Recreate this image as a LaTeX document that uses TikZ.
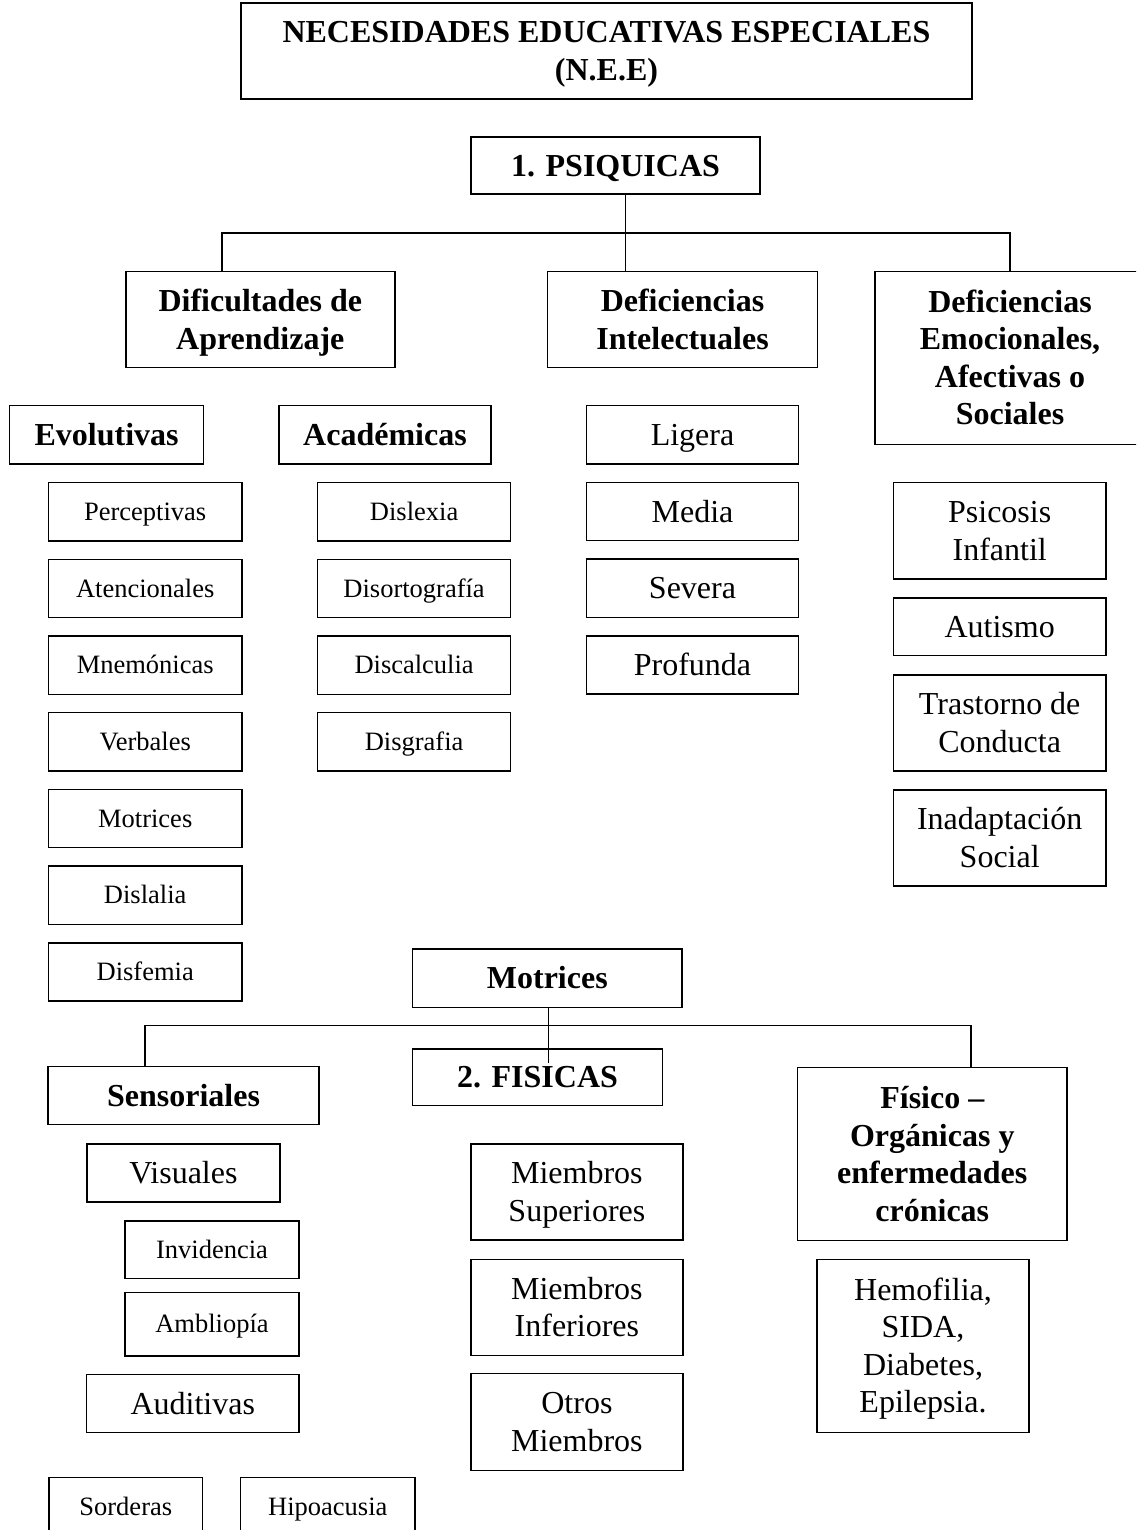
\documentclass[tikz,border=0pt]{standalone}
\usepackage{fontspec}
\setmainfont{Liberation Serif}
\usetikzlibrary{positioning}
\newcommand{\bigtxt}{\fontsize{32}{37.5}\selectfont}
\newcommand{\smalltxt}{\fontsize{26.5}{31}\selectfont}
\newcommand{\vfix}{\rule[-0.22em]{0pt}{1.1em}}
\tikzset{
  box-base/.style={draw,line width=1.5pt,inner sep=0pt,outer sep=0pt,align=center,
    execute at begin node=\vfix,execute at end node=\vfix},
  box-head/.style={box-base,font=\bigtxt\bfseries},
  box-big/.style={box-base,font=\bigtxt},
  box-small/.style={box-base,font=\smalltxt,minimum width=193.2pt,minimum height=58.3pt},
  % big text over 2 or 4 lines
  text-2l/.style={text height=65.7pt,text depth=7pt},
  text-4l/.style={text height=140.7pt,text depth=7pt},
  link/.style={line width=1.5pt},
}
\begin{document}
\begin{tikzpicture}[x=1pt,y=-1pt,node distance=18.4pt]
  \clip (0,0) rectangle (1136,1530);
  % 1. psiquicas
  \node[box-head,text-2l,minimum width=731pt,minimum height=96pt] (nee) at (606.5,51) {NECESIDADES EDUCATIVAS ESPECIALES\\(N.E.E)};
  \node[box-head,minimum width=289pt,minimum height=57pt] (psi) at (615.5,165.5) {1. PSIQUICAS};
  \node[box-head,text-2l,minimum width=269pt,minimum height=96pt] (dific) at (260.3,319.7) {Dificultades de\\Aprendizaje};
  \node[box-head,text-2l,minimum width=270pt,minimum height=96pt] (defint) at (682.5,319.7) {Deficiencias\\Intelectuales};
  \node[box-head,text-4l,minimum width=270pt,minimum height=172.6pt] (defemo) at (1010,358) {Deficiencias\\Emocionales,\\Afectivas o\\Sociales};
  \coordinate (j1) at (625.5,233);
  \coordinate (bus1L) at (222,233);
  \coordinate (bus1R) at (1010,233);
  \draw[link] (psi.south -| j1) -- (j1 |- defint.north);
  \draw[link] (dific.north -| bus1L) -- (bus1L) -- (bus1R) -- (defemo.north -| bus1R);

  \node[box-head,minimum width=194pt,minimum height=58.3pt] (evol) at (106.6,434.8) {Evolutivas};
  \node[box-head,minimum width=212pt,minimum height=58.3pt] (acad) at (385,434.8) {Académicas};
  \node[box-small] (perc) at (145.2,511.7) {Perceptivas};
  \node[box-small,below=of perc] (aten) {Atencionales};
  \node[box-small,below=of aten] (mnem) {Mnemónicas};
  \node[box-small,below=of mnem] (verb) {Verbales};
  \node[box-small,below=of verb] (motz) {Motrices};
  \node[box-small,below=of motz] (disla) {Dislalia};
  \node[box-small,below=of disla] (disfe) {Disfemia};
  \node[box-small] (disle) at (414.1,511.7) {Dislexia};
  \node[box-small,below=of disle] (disor) {Disortografía};
  \node[box-small,below=of disor] (disca) {Discalculia};
  \node[box-small,below=of disca] (disgr) {Disgrafia};

  \node[box-big,minimum width=212pt,minimum height=58.3pt] (lig) at (692.5,434.8) {Ligera};
  \node[box-big,minimum width=212pt,minimum height=58.3pt,below=of lig] (med) {Media};
  \node[box-big,minimum width=212pt,minimum height=58.3pt,below=of med] (sev) {Severa};
  \node[box-big,minimum width=212pt,minimum height=58.3pt,below=of sev] (prof) {Profunda};

  \node[box-big,text-2l,minimum width=212.3pt,minimum height=96.3pt] (psic) at (999.7,530.8) {Psicosis\\Infantil};
  \node[box-big,minimum width=212.3pt,minimum height=57.5pt,below=19.2pt of psic] (aut) {Autismo};
  \node[box-big,text-2l,minimum width=212.3pt,minimum height=96pt,below=19.2pt of aut] (trast) {Trastorno de\\Conducta};
  \node[box-big,text-2l,minimum width=212.3pt,minimum height=96pt,below=19pt of trast] (inad) {Inadaptación\\Social};

  % 2. fisicas
  \node[box-head,minimum width=269.5pt,minimum height=58.3pt] (motr) at (547.3,978.2) {Motrices};
  \node[box-head,minimum width=250pt,minimum height=56.7pt] (fis) at (537.5,1077.3) {2. FISICAS};
  \node[box-head,minimum width=270.6pt,minimum height=57.6pt] (sens) at (183.5,1095.5) {Sensoriales};
  \node[box-head,text-4l,minimum width=269.4pt,minimum height=173pt] (fisorg) at (932.3,1154.2) {Físico --\\Orgánicas y\\enfermedades\\crónicas};
  \coordinate (j2) at (548.7,1063);
  \coordinate (bus2L) at (145,1025.7);
  \coordinate (bus2R) at (971,1025.7);
  \draw[link] (motr.south -| j2) -- (j2);
  \draw[link] (sens.north -| bus2L) -- (bus2L) -- (bus2R) -- (fisorg.north -| bus2R);

  \node[box-big,minimum width=193.3pt,minimum height=57.7pt] (vis) at (183.4,1172.9) {Visuales};
  \node[box-small,minimum width=174pt,minimum height=57.3pt] (invi) at (212,1249.7) {Invidencia};
  \node[box-small,minimum width=174pt,minimum height=63.7pt] (ambl) at (212,1324.2) {Ambliopía};
  \node[box-big,minimum width=212.3pt,minimum height=58.4pt] (aud) at (192.8,1403.5) {Auditivas};
  \node[box-small,minimum width=153.7pt,minimum height=58pt] (sord) at (125.8,1506.7) {Sorderas};
  \node[box-small,minimum width=174.3pt,minimum height=58pt] (hipo) at (327.8,1506.7) {Hipoacusia};

  \node[box-big,text-2l,minimum width=211.7pt,minimum height=96pt] (msup) at (576.9,1192) {Miembros\\Superiores};
  \node[box-big,text-2l,minimum width=211.7pt,minimum height=96pt,below=19.3pt of msup] (minf) {Miembros\\Inferiores};
  \node[box-big,text-2l,minimum width=211.7pt,minimum height=97pt,below=18.3pt of minf] (motro) {Otros\\Miembros};
  \node[box-big,text-4l,minimum width=212pt,minimum height=173.4pt] (hemo) at (923,1346) {Hemofilia,\\SIDA,\\Diabetes,\\Epilepsia.};
\end{tikzpicture}
\end{document}
